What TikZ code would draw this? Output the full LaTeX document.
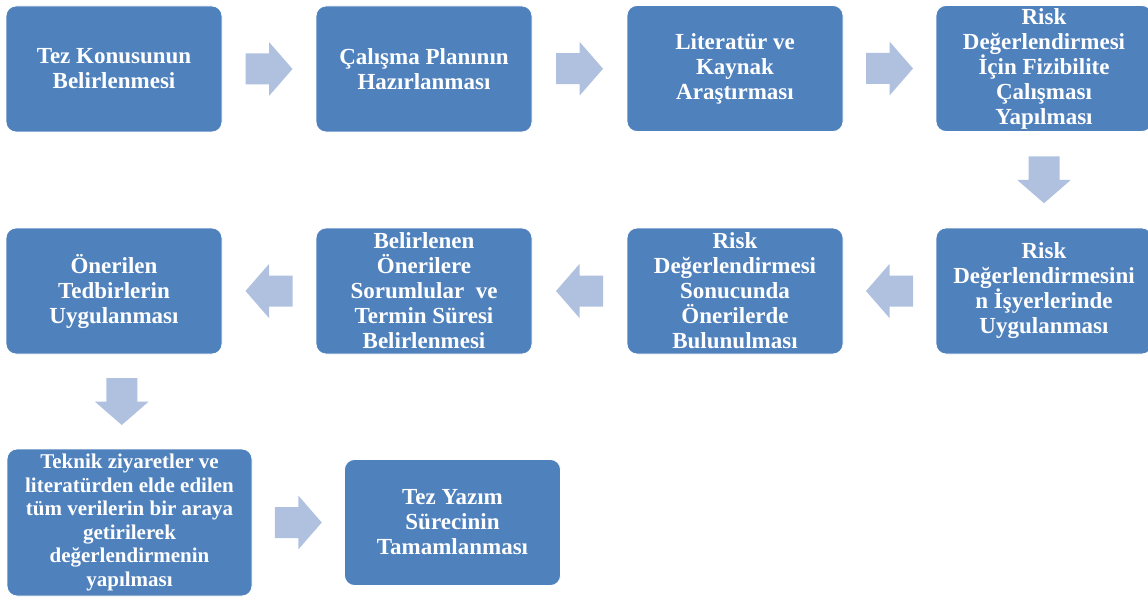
\documentclass[tikz,border=0pt]{standalone}
\usepackage{fontspec}
\setmainfont{Liberation Serif}
\usetikzlibrary{calc}
\definecolor{boxc}{HTML}{4F81BD}
\definecolor{arrowc}{HTML}{AFC1DE}
\tikzset{
  stepbox/.style={rectangle, rounded corners=10pt, fill=boxc, draw=white, line width=0.8pt,
    minimum width=216pt, minimum height=126pt, inner sep=2pt, align=center,
    text=white, font=\bfseries\fontsize{23}{25}\selectfont},
  bigbox/.style={stepbox, minimum width=245pt, minimum height=147pt,
    font=\bfseries\fontsize{21}{23.5}\selectfont},
  barrow/.pic={\fill[arrowc] (-23.5,-15.5) -- (0,-15.5) -- (0,-27) -- (23.5,0) -- (0,27) -- (0,15.5) -- (-23.5,15.5) -- cycle;}
}
\begin{document}
\begin{tikzpicture}[x=1pt,y=1pt]
\useasboundingbox (0,0) rectangle (1148,-599);
\clip (0,0) rectangle (1148,-599);
\node[stepbox] (b1) at (114,-69) {Tez Konusunun\\Belirlenmesi};
\node[stepbox] (b2) at (424,-69) {Çalışma Planının\\Hazırlanması};
\node[stepbox] (b3) at (735,-68.5) {Literatür ve\\Kaynak\\Araştırması};
\node[stepbox] (b4) at (1044,-68.5) {Risk\\Değerlendirmesi\\İçin Fizibilite\\Çalışması\\Yapılması};
\node[stepbox] (b5) at (1044,-291) {Risk\\Değerlendirmesini\\n İşyerlerinde\\Uygulanması};
\node[stepbox] (b6) at (735,-291) {Risk\\Değerlendirmesi\\Sonucunda\\Önerilerde\\Bulunulması};
\node[stepbox] (b7) at (424,-291) {Belirlenen\\Önerilere\\Sorumlular~~ve\\Termin Süresi\\Belirlenmesi};
\node[stepbox] (b8) at (114,-291) {Önerilen\\Tedbirlerin\\Uygulanması};
\node[bigbox] (b9) at (129.5,-522.5) {Teknik ziyaretler ve\\literatürden elde edilen\\tüm verilerin bir araya\\getirilerek\\değerlendirmenin\\yapılması};
\node[stepbox] (b10) at (452.5,-522.5) {Tez Yazım\\Sürecinin\\Tamamlanması};
\pic at ($(b1.east)!0.5!(b2.west)$) {barrow};
\pic at ($(b2.east)!0.5!(b3.west)$) {barrow};
\pic at ($(b3.east)!0.5!(b4.west)$) {barrow};
\pic[rotate=-90] at ($(b4.south)!0.5!(b5.north)$) {barrow};
\pic[rotate=180] at ($(b5.west)!0.5!(b6.east)$) {barrow};
\pic[rotate=180] at ($(b6.west)!0.5!(b7.east)$) {barrow};
\pic[rotate=180] at ($(b7.west)!0.5!(b8.east)$) {barrow};
\pic[rotate=-90] at ($(b8.south)!0.5!(b9.north)$) {barrow};
\pic at ($(b9.east)!0.5!(b10.west)$) {barrow};
\end{tikzpicture}
\end{document}
